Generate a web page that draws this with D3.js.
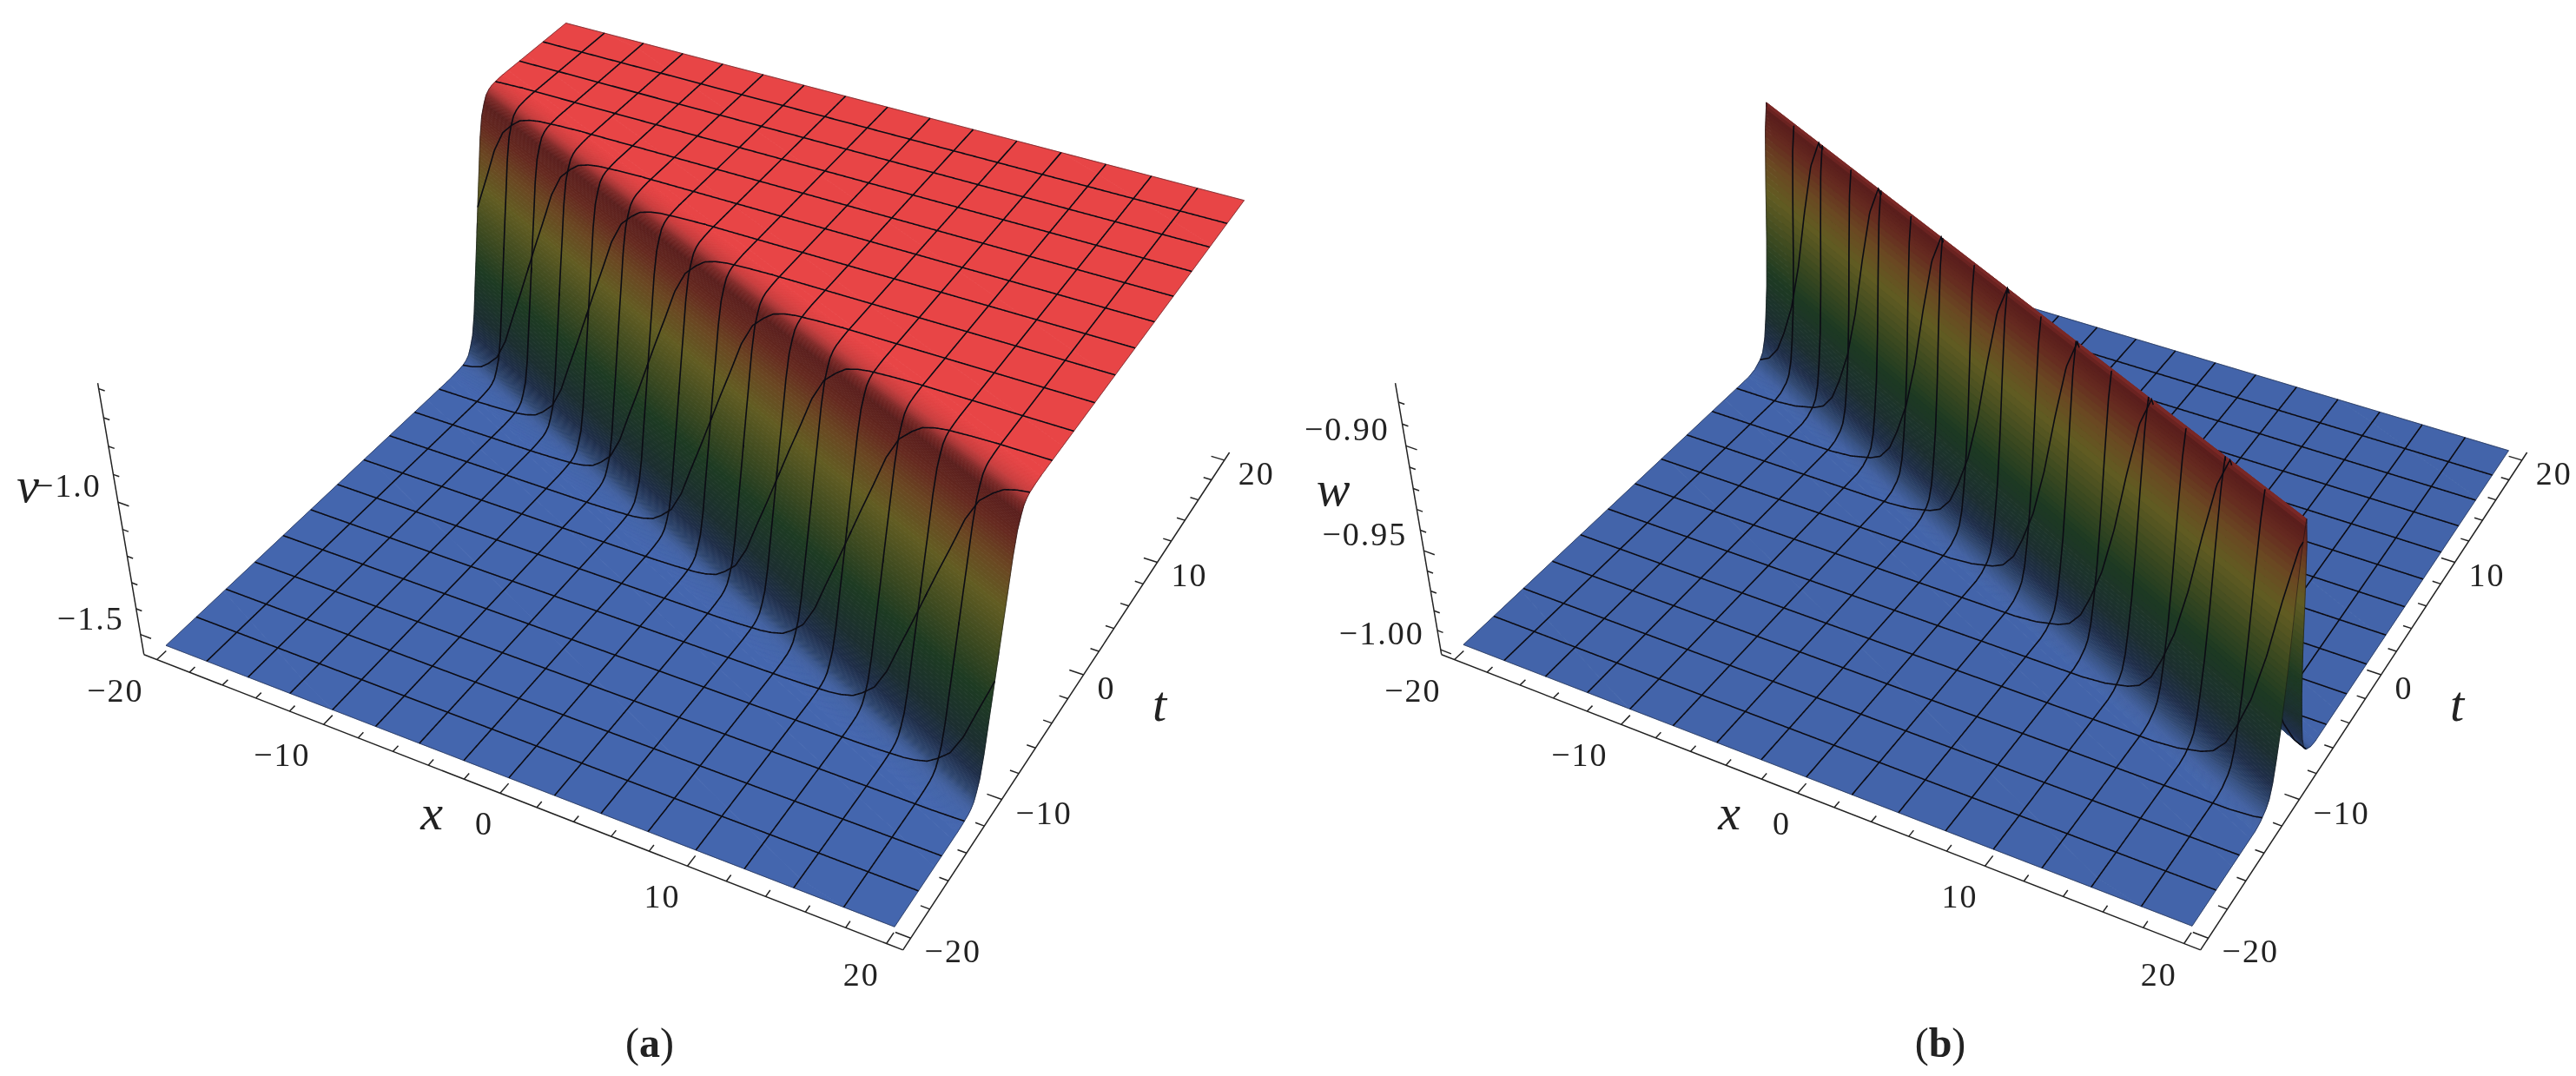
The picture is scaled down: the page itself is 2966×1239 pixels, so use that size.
<!DOCTYPE html>
<html>
<head>
<meta charset="utf-8">
<script src="https://cdn.jsdelivr.net/npm/d3@7/dist/d3.min.js"></script>
<style>
body { margin: 0; background: #fff; }
text { font-family: "Liberation Serif", serif; fill: #222; }
</style>
</head>
<body>
<div id="chart"></div>
<script>
const width = 2966;
const height = 1239;

// mesh lines, same in x and t
const meshLines = [-17.5, -15, -12.5, -10, -7.5, -5, -2.5, 0, 2.5, 5, 7.5, 10, 12.5, 15, 17.5];

const xyTicksMajor = [-20, -10, 0, 10, 20];
const xyTicksMinor = [-18, -16, -14, -12, -8, -6, -4, -2, 2, 4, 6, 8, 12, 14, 16, 18];

const vTicksMajor = [-1.5, -1.0];
const vTicksMinor = [-1.4, -1.3, -1.2, -1.1, -0.9, -0.8, -0.7, -0.6];
const wTicksMajor = [-1.00, -0.95, -0.90];
const wTicksMinor = [-0.99, -0.98, -0.97, -0.96, -0.94, -0.93, -0.92, -0.91, -0.89, -0.88];

// height read across the wave, u = distance in t from the wave centre
const profileU = [-3.5, -2.9, -2.3, -2, -1.7, -1.45, -1.15, -0.85, -0.57, -0.28, 0, 0.28, 0.57, 0.85, 1.15, 1.45, 1.7, 2, 2.3, 2.9, 3.5];
const profileV = [-1.56, -1.558, -1.554, -1.548, -1.536, -1.512, -1.474, -1.397, -1.291, -1.186, -1.08, -0.974, -0.869, -0.763, -0.686, -0.648, -0.624, -0.612, -0.606, -0.602, -0.6];
const profileW = [-0.9996, -0.9987, -0.9962, -0.9937, -0.9874, -0.9773, -0.9622, -0.9395, -0.9118, -0.8866, -0.874, -0.8866, -0.9118, -0.9395, -0.9622, -0.9773, -0.9874, -0.9937, -0.9962, -0.9987, -0.9996];

// slope of the wave centre line in the (x,t) plane
const waveSlope = 0.49;

const colorLevels = [0, 0.012, 0.04, 0.09, 0.18, 0.35, 0.5, 0.66, 0.78, 0.88, 0.95, 0.975, 0.99, 1];
const colorValues = ["#4466ae", "#4160a0", "#2e4670", "#1f2e4a", "#1c2e30", "#1d3a22", "#3d4a20", "#625c22", "#6a4722", "#662a20", "#5a1e1c", "#7c2826", "#b83a3a", "#e84546"];

const colorScale = d3.scaleLinear().domain(colorLevels).range(colorValues).clamp(true);

// view calibration: box and surface corners [x, t, height 0..1] -> pixel, panel (a)
const viewPairs = [
    [[-20.8, -20.8, -0.02], [163, 752]],
    [[20.8, -20.8, -0.02], [1039, 1096]],
    [[20.8, 20.8, -0.02], [1417, 523]],
    [[-20.8, -20.8, 1.02], [114, 442]],
    [[-20, -20, 0], [191, 745]],
    [[20, -20, 0], [1032, 1066]],
    [[20, 20, 1], [1432, 229]],
    [[-20, 20, 1], [650, 25]],
    [[20, 20, 0], [1393, 520]],
    [[-20, 5, 0], [509, 447]],
    [[-20, 12.5, 1], [570, 95]],
    [[20, -12.5, 0], [1108, 944]],
    [[20, -2.5, 1], [1238, 497]]
];

function fitCamera(pairs) {
    // 3x4 projection, last entry fixed to 1, normal equations
    let rows = [], rhs = [];
    pairs.forEach(([w, s]) => {
        let X = w[0] / 20, Y = w[1] / 20, Z = w[2], u = s[0] / 1000, v = s[1] / 1000;
        rows.push([X, Y, Z, 1, 0, 0, 0, 0, -u * X, -u * Y, -u * Z]); rhs.push(u);
        rows.push([0, 0, 0, 0, X, Y, Z, 1, -v * X, -v * Y, -v * Z]); rhs.push(v);
    });
    let n = 11;
    let A = d3.range(n).map(i => d3.range(n + 1).map(j => {
        let sum = 0;
        rows.forEach((r, k) => { sum += r[i] * (j < n ? r[j] : rhs[k]); });
        return sum;
    }));
    for (let c = 0; c < n; c++) {
        let p = d3.range(c, n).sort((a, b) => Math.abs(A[b][c]) - Math.abs(A[a][c]))[0];
        [A[c], A[p]] = [A[p], A[c]];
        for (let r = 0; r < n; r++) {
            if (r == c) continue;
            let f = A[r][c] / A[c][c];
            for (let j = c; j <= n; j++) A[r][j] -= f * A[c][j];
        }
    }
    return A.map((r, i) => r[n] / r[i]);
}

const cam = fitCamera(viewPairs);

function project(x, t, h) {
    let X = x / 20, Y = t / 20;
    let d = cam[8] * X + cam[9] * Y + cam[10] * h + 1;
    return [
        1000 * (cam[0] * X + cam[1] * Y + cam[2] * h + cam[3]) / d,
        1000 * (cam[4] * X + cam[5] * Y + cam[6] * h + cam[7]) / d
    ];
}

const svg = d3.select("#chart").append("svg")
    .attr("width", width)
    .attr("height", height)
    .style("display", "block")
    .style("filter", "blur(0.6px)");

const line = d3.line();
const meshLine = d3.line().defined(d => d != null);

// samples across the wave, dense on it, coarse on the flat parts
const uGrid = [-60, -40, -25, -12, -6, -4].concat(d3.range(-3.5, 3.5001, 0.035)).concat([4, 6, 12, 25, 40, 60]);
const stripX = d3.range(-20, 20, 2.5);
// draw order: far floor, back of the wave, front of the wave
const layers = [[3.5, 100], [0, 3.5], [-100, 0]];

function drawPanel(opt) {
    let g = svg.append("g").attr("transform", `translate(${opt.dx},0)`);
    let heightScale = d3.scaleLinear().domain(opt.range).range([0, 1]);
    let profile = d3.scaleLinear().domain(profileU).range(opt.profile).clamp(true);

    let centre = x => -waveSlope * x;
    let clampT = t => Math.max(-20, Math.min(20, t));
    let surfaceH = (x, t) => heightScale(profile(t - centre(x)));

    layers.forEach(([lo, hi]) => {
        let quads = [];
        stripX.forEach(x0 => {
            let x1 = x0 + 2.5;
            for (let i = uGrid.length - 2; i >= 0; i--) {
                let ua = uGrid[i], ub = uGrid[i + 1];
                if (ua < lo - 1e-6 || ub > hi + 1e-6) continue;
                let ta0 = clampT(centre(x0) + ua), tb0 = clampT(centre(x0) + ub);
                let ta1 = clampT(centre(x1) + ua), tb1 = clampT(centre(x1) + ub);
                if (ta0 == tb0 && ta1 == tb1) continue;
                quads.push({
                    pts: [
                        project(x0, ta0, surfaceH(x0, ta0)),
                        project(x1, ta1, surfaceH(x1, ta1)),
                        project(x1, tb1, surfaceH(x1, tb1)),
                        project(x0, tb0, surfaceH(x0, tb0))
                    ],
                    h: heightScale(profile((ua + ub) / 2)) * opt.colorCap
                });
            }
        });

        g.append("g").selectAll("path").data(quads).join("path")
            .attr("d", d => line(d.pts) + "Z")
            .attr("fill", d => colorScale(d.h))
            .attr("stroke", d => colorScale(d.h))
            .attr("stroke-width", 0.8);

        // mesh lines clipped to this layer
        let inLayer = u => u >= lo - 0.07 && u <= hi + 0.07;
        let fine = d3.range(-20, 20.001, 0.05);
        let alongT = x => meshLine(fine.map(t => inLayer(t - centre(x)) ? project(x, t, surfaceH(x, t)) : null));
        let alongX = t => meshLine(fine.map(x => inLayer(t - centre(x)) ? project(x, t, surfaceH(x, t)) : null));

        let mesh = g.append("g").attr("fill", "none").attr("stroke", "#0c0c14");
        meshLines.forEach(m => {
            mesh.append("path").attr("d", alongT(m)).attr("stroke-width", 1.6);
            mesh.append("path").attr("d", alongX(m)).attr("stroke-width", 1.6);
        });
        [-20, 20].forEach(m => {
            mesh.append("path").attr("d", alongT(m)).attr("stroke-width", 0.8).attr("stroke-opacity", 0.6);
            mesh.append("path").attr("d", alongX(m)).attr("stroke-width", 0.8).attr("stroke-opacity", 0.6);
        });
    });

    // box edges with ticks
    let ax = g.append("g").attr("fill", "none").attr("stroke", "#222").attr("stroke-width", 1.5);
    let seg = (a, b) => ax.append("path").attr("d", line([project(...a), project(...b)]));
    let low = -0.02, top = 1.02, e = 20.8;
    seg([-e, -e, low], [e, -e, low]);
    seg([e, -e, low], [e, e, low]);
    seg([-e, -e, low], [-e, -e, top]);

    let labels = g.append("g").attr("font-size", 38).attr("letter-spacing", 2);
    xyTicksMajor.forEach(v => {
        seg([v, -e, low], [v, -e + 0.75, low]);
        seg([e, v, low], [e - 0.75, v, low]);
        let px = project(v, -e, low), pt = project(e, v, low);
        labels.append("text").attr("x", px[0] - (v < 0 ? 15 : 8)).attr("y", px[1] + 48)
            .attr("text-anchor", "end").text(String(v).replace("-", "−"));
        labels.append("text").attr("x", pt[0] + 16).attr("y", pt[1] + 28)
            .attr("text-anchor", "start").text(String(v).replace("-", "−"));
    });
    xyTicksMinor.forEach(v => {
        seg([v, -e, low], [v, -e + 0.45, low]);
        seg([e, v, low], [e - 0.45, v, low]);
    });
    opt.ticksMajor.forEach(v => {
        let h = heightScale(v);
        seg([-e, -e, h], [-e + 0.65, -e, h]);
        let p = project(-e, -e, h);
        labels.append("text").attr("x", p[0] - 19).attr("y", p[1] - 6)
            .attr("text-anchor", "end").text(opt.format(v));
    });
    opt.ticksMinor.forEach(v => {
        let h = heightScale(v);
        seg([-e, -e, h], [-e + 0.35, -e, h]);
    });

    let titles = g.append("g").attr("font-size", 58).attr("font-style", "italic").attr("text-anchor", "middle");
    titles.append("text").attr("x", opt.zTitle[0]).attr("y", opt.zTitle[1]).text(opt.zName);
    titles.append("text").attr("x", 497).attr("y", 955).text("x");
    titles.append("text").attr("x", 1335).attr("y", 830).text("t");

    let cap = g.append("text").attr("x", opt.cap).attr("y", 1217).attr("font-size", 48).attr("text-anchor", "middle");
    cap.append("tspan").text("(");
    cap.append("tspan").attr("font-weight", "bold").text(opt.capName);
    cap.append("tspan").text(")");
}

drawPanel({
    dx: 0,
    range: [-1.56, -0.6],
    profile: profileV,
    colorCap: 1,
    ticksMajor: vTicksMajor,
    ticksMinor: vTicksMinor,
    format: d => d3.format(".1f")(d).replace("-", "−"),
    zName: "v",
    zTitle: [32, 578],
    cap: 748,
    capName: "a"
});

drawPanel({
    dx: 1494,
    range: [-1.0, -0.874],
    profile: profileW,
    colorCap: 0.98,
    ticksMajor: wTicksMajor,
    ticksMinor: wTicksMinor,
    format: d => d3.format(".2f")(d).replace("-", "−"),
    zName: "w",
    zTitle: [41, 582],
    cap: 740,
    capName: "b"
});
</script>
</body>
</html>
